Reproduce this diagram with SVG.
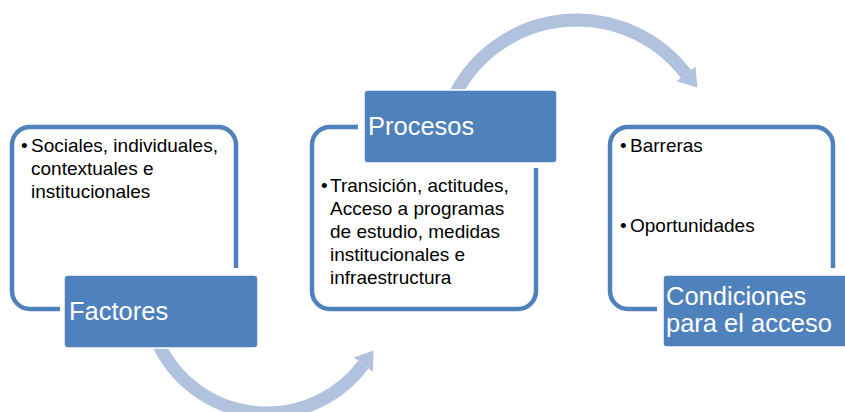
<svg xmlns="http://www.w3.org/2000/svg" width="845" height="412" viewBox="0 0 845 412">
  <style>
    .outline { fill: none; stroke: #4f81bd; stroke-width: 4.5; stroke-linecap: butt; }
    .label { fill: #4f81bd; stroke: #ffffff; stroke-width: 1.5; }
    .arc { fill: none; stroke: #b0c2de; stroke-width: 13; }
    .head { fill: #b0c2de; stroke: none; }
    .body { font-family: "Liberation Sans", Arial, sans-serif; font-size: 19px; fill: #000000; }
    .title { font-family: "Liberation Sans", Arial, sans-serif; font-size: 25.5px; fill: #ffffff; }
  </style>
  <rect width="845" height="412" fill="#ffffff"/>

  <g id="connectors">
    <path class="arc" d="M 454.8 95 A 137 137 0 0 1 686 74"/>
    <polygon class="head" points="695.5,66.7 697.5,87.5 676.5,81.3"/>
    <path class="arc" d="M 158.9 345 A 120 120 0 0 0 363.3 364.6"/>
    <polygon class="head" points="353.7,357.4 373.5,350.5 372.9,371.8"/>
  </g>

  <g id="factores">
    <path class="outline" d="M 236 268 V 145 A 18 18 0 0 0 218 127 H 30 A 18 18 0 0 0 12 145 V 291 A 18 18 0 0 0 30 309 H 60"/>
    <text class="body" x="21" y="152">•</text>
    <text class="body" x="31" y="152">Sociales, individuales,</text>
    <text class="body" x="31" y="175">contextuales e</text>
    <text class="body" x="31" y="198">institucionales</text>
    <rect class="label" x="64" y="275" width="194" height="73" rx="4"/>
    <text class="title" x="69" y="320">Factores</text>
  </g>

  <g id="procesos">
    <path class="outline" d="M 358 127 H 330 A 18 18 0 0 0 312 145 V 291 A 18 18 0 0 0 330 309 H 518 A 18 18 0 0 0 536 291 V 168"/>
    <text class="body" x="321" y="192">•</text>
    <text class="body" x="330" y="192">Transición, actitudes,</text>
    <text class="body" x="330" y="215">Acceso a programas</text>
    <text class="body" x="330" y="238">de estudio, medidas</text>
    <text class="body" x="330" y="261">institucionales e</text>
    <text class="body" x="330" y="284">infraestructura</text>
    <rect class="label" x="364" y="90" width="193" height="73" rx="4"/>
    <text class="title" x="368" y="135">Procesos</text>
  </g>

  <g id="condiciones">
    <path class="outline" d="M 833 268 V 145 A 18 18 0 0 0 815 127 H 628 A 18 18 0 0 0 610 145 V 291 A 18 18 0 0 0 628 309 H 657"/>
    <text class="body" x="620" y="152">•</text>
    <text class="body" x="630" y="152">Barreras</text>
    <text class="body" x="620" y="232">•</text>
    <text class="body" x="630" y="232">Oportunidades</text>
    <rect class="label" x="663" y="275" width="194" height="72" rx="4"/>
    <text class="title" x="666" y="305">Condiciones</text>
    <text class="title" x="666" y="332">para el acceso</text>
  </g>
</svg>
